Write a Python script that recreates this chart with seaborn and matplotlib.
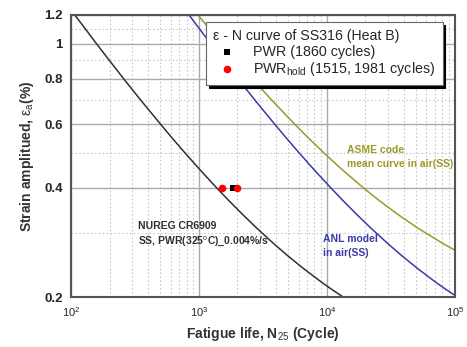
import matplotlib
matplotlib.use("Agg")
import matplotlib.pyplot as plt
import seaborn as sns
from matplotlib.ticker import FixedLocator, FixedFormatter, NullFormatter, LogLocator

# curves (strain amplitude %, cycles)
strain = [1.2, 1.1, 1.0, 0.9, 0.8, 0.7, 0.6, 0.55, 0.5, 0.45, 0.4,
          0.37, 0.34, 0.31, 0.28, 0.26, 0.24, 0.22, 0.21, 0.2]
nureg_life = [107, 129, 158, 199, 258, 349, 500, 615, 776, 1012, 1376,
              1700, 2155, 2825, 3873, 4939, 6528, 9046, 10904, 13397]
anl_life = [836, 1006, 1235, 1554, 2016, 2726, 3899, 4798, 6056, 7892, 10733,
            13256, 16807, 22035, 30213, 38524, 50918, 70557, 85050, 104500]

asme_strain = [1.2, 1.1, 1.0, 0.9, 0.8, 0.7, 0.6, 0.55, 0.5, 0.45, 0.4,
               0.37, 0.34, 0.31, 0.28, 0.27, 0.265]
asme_life = [981, 1203, 1509, 1949, 2614, 3686, 5586, 7139, 9444, 13075, 19291,
             25414, 34992, 51213, 82014, 98718, 109048]

# test data
pwr_life = [1860]
pwr_strain = [0.4]
hold_life = [1515, 1981]
hold_strain = [0.4, 0.4]

sns.set_style("white")
plt.rcParams['font.family'] = ['Liberation Sans', 'DejaVu Sans']
plt.rcParams['mathtext.fontset'] = 'custom'
plt.rcParams['mathtext.rm'] = 'Liberation Sans'
plt.rcParams['mathtext.it'] = 'Liberation Sans'
plt.rcParams['mathtext.bf'] = 'Liberation Sans:bold'

fig, ax = plt.subplots(figsize=(4.67, 3.47), dpi=100)
fig.subplots_adjust(left=0.152, right=0.974, top=0.957, bottom=0.144)
ax.set(xscale="log", yscale="log")

sns.lineplot(x=nureg_life, y=strain, sort=False, estimator=None, color="#303030", lw=1.1, ax=ax)
sns.lineplot(x=anl_life, y=strain, sort=False, estimator=None, color="#3a3aa8", lw=1.1, ax=ax)
sns.lineplot(x=asme_life, y=asme_strain, sort=False, estimator=None, color="#9a9a2a", lw=1.1, ax=ax)

sns.scatterplot(x=pwr_life, y=pwr_strain, marker="s", color="black", s=22, linewidth=0,
                label="PWR (1860 cycles)", ax=ax, zorder=3)
sns.scatterplot(x=hold_life, y=hold_strain, marker="o", color="red", s=30, linewidth=0,
                label="PWR$_{\\mathrm{hold}}$ (1515, 1981 cycles)", ax=ax, zorder=4)

ax.set_xlim(100, 1e5)
ax.set_ylim(0.2, 1.2)

ax.xaxis.set_major_locator(LogLocator(base=10))
ax.xaxis.set_minor_locator(LogLocator(base=10, subs=range(2, 10)))
ax.xaxis.set_minor_formatter(NullFormatter())
ax.yaxis.set_major_locator(FixedLocator([0.2, 0.4, 0.6, 0.8, 1.0, 1.2]))
ax.yaxis.set_major_formatter(FixedFormatter(["0.2", "0.4", "0.6", "0.8", "1", "1.2"]))
ax.yaxis.set_minor_locator(FixedLocator([0.3, 0.5, 0.7, 0.9, 1.1]))
ax.yaxis.set_minor_formatter(NullFormatter())

ax.grid(which="major", color="#aaaaaa", lw=1.0, ls="-")
ax.grid(which="minor", color="#c8c8c8", lw=0.8, ls=(0, (1.5, 2)))
ax.tick_params(which="major", direction="out", length=4, width=1.2, color="#444444",
               labelsize=9.5, pad=2)
ax.tick_params(which="minor", direction="out", length=2, width=1.0, color="#444444")
ax.tick_params(axis="x", labelsize=8)
for lab in ax.get_yticklabels():
    lab.set_fontweight("bold")
for s in ax.spines.values():
    s.set_color("#555555")
    s.set_linewidth(1.5)

ax.set_xlabel("Fatigue life, N$_{25}$ (Cycle)", fontsize=10, fontweight="bold", color="#333333", labelpad=4)
ax.set_ylabel("Strain amplitued, $\\epsilon_{a}$(%)", fontsize=10, fontweight="bold", color="#333333", labelpad=6)

ax.text(335, 0.308, "NUREG CR6909", fontsize=7.5, fontweight="bold", color="#303030")
ax.text(335, 0.280, "SS, PWR(325$^{o}$C)_0.004%/s", fontsize=7.5, fontweight="bold", color="#303030")
ax.text(9400, 0.283, "ANL model", fontsize=7.5, fontweight="bold", color="#3a3aa8")
ax.text(9400, 0.259, "in air(SS)", fontsize=7.5, fontweight="bold", color="#3a3aa8")
ax.text(14300, 0.498, "ASME code", fontsize=7.5, fontweight="bold", color="#9a9a2a")
ax.text(14300, 0.456, "mean curve in air(SS)", fontsize=7.5, fontweight="bold", color="#9a9a2a")

leg = ax.legend(title="\u03b5 - N curve of SS316 (Heat B)", loc="upper right",
                bbox_to_anchor=(0.979, 0.99), fontsize=10.3, title_fontsize=10.2,
                frameon=True, fancybox=False, edgecolor="#666666", framealpha=1,
                shadow={"color": "black", "alpha": 1}, borderpad=0.5,
                handletextpad=0.8, labelspacing=0.1, alignment="left",
                borderaxespad=0.3)
leg.get_frame().set_linewidth(0.8)

plt.savefig("out.png", dpi=100)
